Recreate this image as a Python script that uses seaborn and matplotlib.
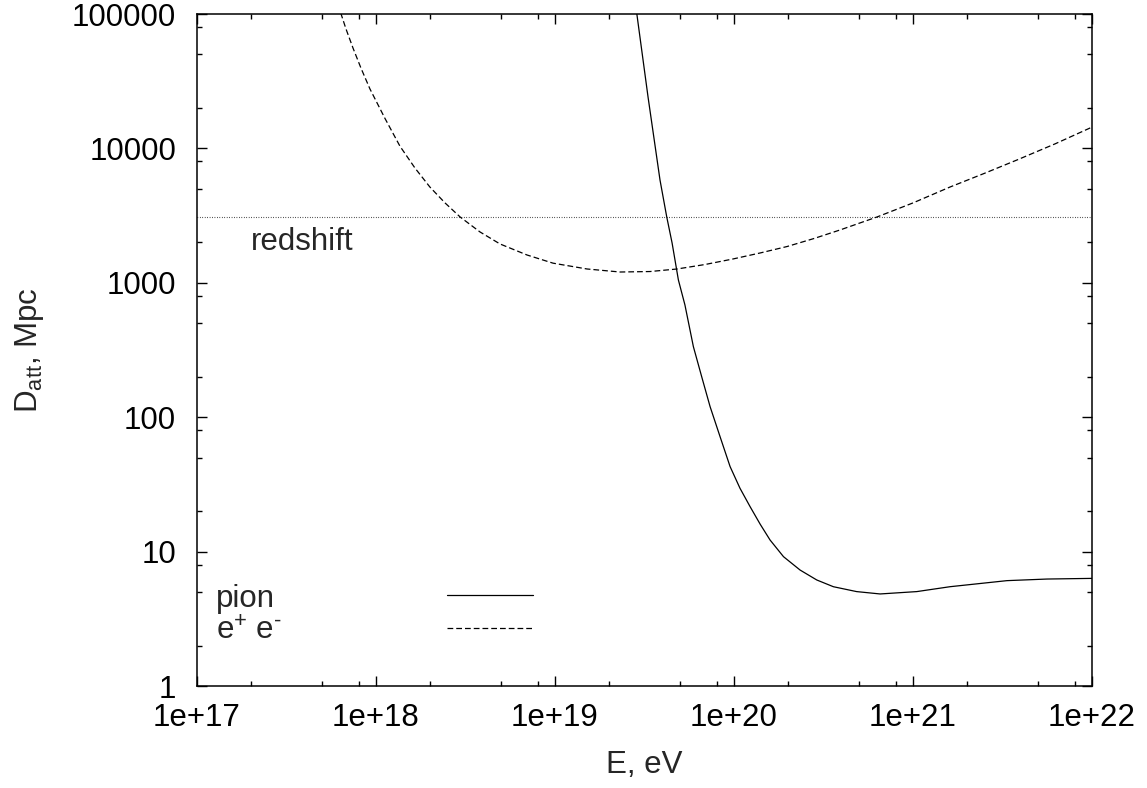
import numpy as np
import pandas as pd
import matplotlib
matplotlib.use("Agg")
import matplotlib.pyplot as plt
from matplotlib.ticker import FixedLocator, FuncFormatter, NullFormatter
import seaborn as sns

# Attenuation length of UHE protons: pion photoproduction and e+e- pair production
pion_E = [2.86e19, 3.31e19, 3.86e19, 4.21e19, 4.51e19, 4.89e19, 5.32e19, 5.93e19,
          6.60e19, 7.35e19, 8.36e19, 9.51e19, 1.08e20, 1.23e20, 1.40e20, 1.59e20,
          1.89e20, 2.34e20, 2.90e20, 3.59e20, 4.84e20, 6.55e20, 1.05e21, 1.61e21,
          3.35e21, 5.61e21, 1.0e22]
pion_D = [1.02e5, 2.41e4, 5820, 3090, 1977, 1050, 684, 335,
          200, 120, 71.6, 42.9, 29.6, 21.6, 16.0, 12.2,
          9.17, 7.29, 6.15, 5.48, 5.04, 4.84, 5.04, 5.48,
          6.08, 6.25, 6.32]

ee_E = [6.35e17, 6.80e17, 7.44e17, 8.24e17, 9.25e17, 1.12e18, 1.36e18, 1.65e18,
        2.00e18, 2.43e18, 2.95e18, 3.81e18, 4.93e18, 6.98e18, 9.75e18, 1.51e19,
        2.31e19, 3.40e19, 4.81e19, 6.89e19, 9.87e19, 1.40e20, 1.98e20, 2.80e20,
        3.91e20, 6.30e20, 1.0e21, 1.61e21, 2.49e21, 3.81e21, 6.21e21, 1.0e22]
ee_D = [1.02e5, 7.73e4, 5.58e4, 3.96e4, 2.77e4, 1.68e4, 1.04e4, 7150,
        5160, 3930, 3090, 2390, 1945, 1610, 1400, 1267,
        1203, 1213, 1267, 1368, 1504, 1667, 1862, 2136,
        2472, 3090, 3930, 5160, 6500, 8200, 1.08e4, 1.44e4]

redshift_D = 3080

x_major = [1e17, 1e18, 1e19, 1e20, 1e21, 1e22]
y_major = [1, 10, 100, 1000, 10000, 100000]

labels = ["pion", r"e$^{+}$ e$^{\text{-}}$"]

sns.set_theme(style="ticks")
plt.rcParams["font.family"] = ["Liberation Sans", "DejaVu Sans"]
plt.rcParams["mathtext.fontset"] = "custom"
plt.rcParams["mathtext.rm"] = "Liberation Sans"
plt.rcParams["mathtext.it"] = "Liberation Sans"
plt.rcParams["mathtext.default"] = "rm"

FS = 22.5

fig = plt.figure(figsize=(11.47, 7.88), dpi=100)
ax = fig.add_axes([197 / 1147, 1 - 686 / 788, 895 / 1147, 672 / 788])

pion_df = pd.DataFrame({"E": pion_E, "D": pion_D})
ee_df = pd.DataFrame({"E": ee_E, "D": ee_D})

sns.lineplot(data=pion_df, x="E", y="D", ax=ax, sort=False, color="black",
             linewidth=0.9, estimator=None)
sns.lineplot(data=ee_df, x="E", y="D", ax=ax, sort=False, color="black",
             linewidth=0.9, estimator=None)
pion_line, ee_line = ax.lines[0], ax.lines[1]
ee_line.set_dashes([4.6, 2.4])
ax.axhline(redshift_D, color="black", linewidth=0.8, linestyle=(0, (0.6, 1.6)))

ax.set_xscale("log")
ax.set_yscale("log")
ax.set_xlim(1e17, 1e22)
ax.set_ylim(1, 1e5)

ax.text(2e17, 2000, "redshift", fontsize=FS, ha="left", va="center")

# decade ticks with minor marks at 2, 5 and 8
def minors(lo, hi):
    return [m * 10.0 ** k for k in range(lo, hi) for m in (2, 5, 8)]

ax.xaxis.set_major_locator(FixedLocator(x_major))
ax.xaxis.set_minor_locator(FixedLocator(minors(17, 22)))
ax.yaxis.set_major_locator(FixedLocator(y_major))
ax.yaxis.set_minor_locator(FixedLocator(minors(0, 5)))
ax.xaxis.set_major_formatter(FuncFormatter(lambda v, p: "1e+%d" % round(np.log10(v))))
ax.yaxis.set_major_formatter(FuncFormatter(lambda v, p: "%d" % round(v)))
ax.xaxis.set_minor_formatter(NullFormatter())
ax.yaxis.set_minor_formatter(NullFormatter())

ax.tick_params(which="both", direction="in", top=True, right=True,
               colors="black", labelsize=FS, width=1.0)
ax.tick_params(which="major", length=7)
ax.tick_params(which="minor", length=3.6)
ax.tick_params(axis="x", which="major", pad=12)
ax.tick_params(axis="y", which="major", pad=15)

for s in ax.spines.values():
    s.set_visible(True)
    s.set_color("black")
    s.set_linewidth(1.1)

ax.set_xlabel("E, eV", fontsize=FS)
ax.set_ylabel(r"D$_{\mathrm{att}}$, Mpc", fontsize=FS)
ax.xaxis.set_label_coords(0.5, (686 - 765) / 672)
ax.xaxis.label.set_va("center")
ax.yaxis.set_label_coords((29 - 197) / 895, 0.5)
ax.yaxis.label.set_va("center")

# key: labels on the left, line samples in a column on the right
ax.legend(handles=[pion_line, ee_line], labels=["", ""], loc="upper left",
          bbox_to_anchor=((446.7 - 197) / 895, (686 - 583) / 672), frameon=False,
          fontsize=FS, handlelength=2.75, handletextpad=0.0, labelspacing=0.08,
          borderpad=0.0, borderaxespad=0.0)
for lab, yb in zip(labels, [(686 - 606.7) / 672, (686 - 640) / 672]):
    ax.text((216 - 197) / 895, yb, lab, transform=ax.transAxes, fontsize=FS,
            ha="left", va="baseline")

fig.savefig("out.png", dpi=100, facecolor="white")
